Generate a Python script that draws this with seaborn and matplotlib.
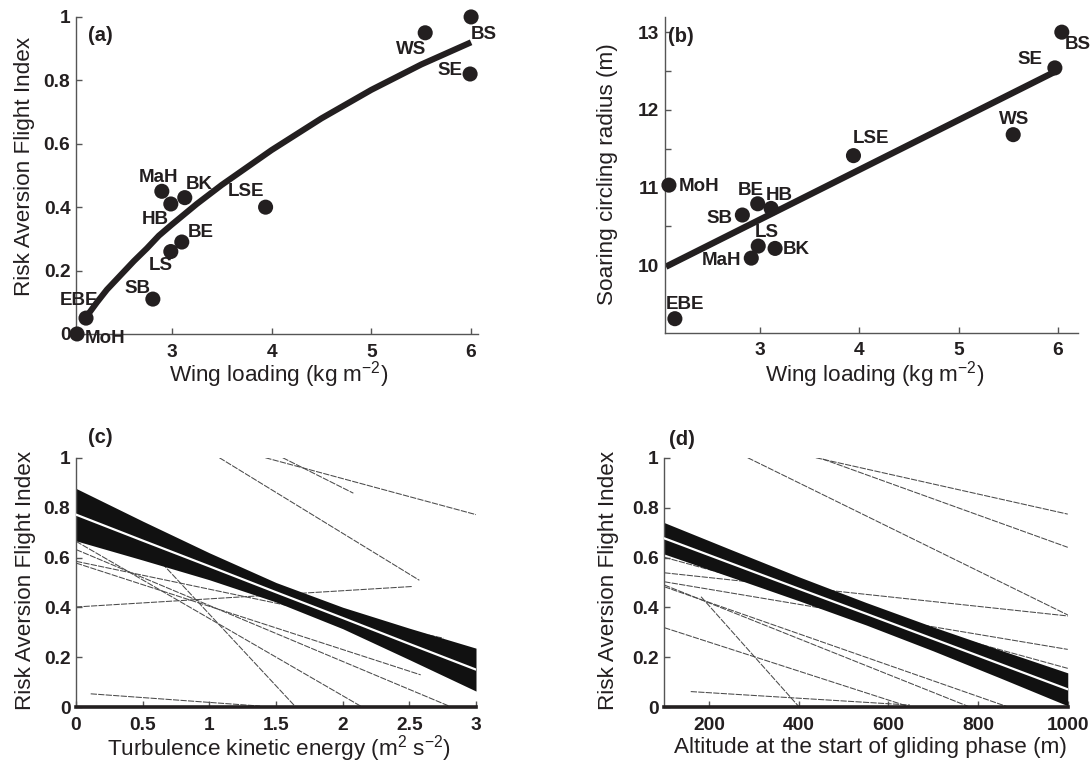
import numpy as np
import pandas as pd
import matplotlib
matplotlib.use("Agg")
import matplotlib.pyplot as plt
import seaborn as sns

# ---------------- data ----------------
species = ['MoH', 'EBE', 'SB', 'LS', 'BE', 'HB', 'MaH', 'BK', 'LSE', 'WS', 'BS', 'SE']

# panel (a)
wing_a = [2.05, 2.14, 2.81, 2.99, 3.10, 2.99, 2.90, 3.13, 3.94, 5.54, 6.00, 5.99]
rafi_a = [0.00, 0.05, 0.11, 0.26, 0.29, 0.41, 0.45, 0.43, 0.40, 0.95, 1.00, 0.82]
fit_a_x = [2.10, 2.18, 2.25, 2.35, 2.50, 2.62, 2.75, 2.87, 3.00, 3.25, 3.50, 3.75, 4.00,
           4.25, 4.50, 4.75, 5.00, 5.25, 5.50, 5.75, 6.00]
fit_a_y = [0.04, 0.07, 0.10, 0.14, 0.19, 0.23, 0.27, 0.31, 0.345, 0.41, 0.47, 0.525, 0.58,
           0.63, 0.68, 0.725, 0.77, 0.81, 0.85, 0.885, 0.92]

# panel (b)
wing_b = [2.08, 2.14, 2.82, 2.98, 2.975, 3.11, 2.91, 3.15, 3.94, 5.55, 6.04, 5.97]
radius_b = [11.03, 9.31, 10.645, 10.245, 10.79, 10.73, 10.09, 10.215, 11.41, 11.68, 13.00, 12.54]
fit_b_x = [2.05, 5.97]
fit_b_y = [9.98, 12.49]

# panel (c)
tke_x = [0.0, 0.5, 1.0, 1.5, 2.0, 2.5, 3.0]
tke_mean = [0.772, 0.668, 0.565, 0.461, 0.358, 0.254, 0.151]
tke_lo = [0.667, 0.590, 0.511, 0.422, 0.315, 0.191, 0.065]
tke_hi = [0.877, 0.746, 0.619, 0.500, 0.401, 0.317, 0.237]
tke_sp_x0 = [1.075, 1.42, 1.55, 0.00, 0.11, 0.30, 0.00, 0.00, 0.00, 0.00]
tke_sp_x1 = [2.575, 3.00, 2.08, 2.52, 1.38, 1.65, 2.15, 2.585, 2.82, 2.755]
tke_sp_y0 = [1.000, 1.000, 1.000, 0.402, 0.054, 0.775, 0.665, 0.578, 0.632, 0.585]
tke_sp_y1 = [0.509, 0.772, 0.858, 0.484, 0.005, 0.000, 0.000, 0.130, 0.000, 0.277]

# panel (d)
alt_x = [100, 250, 400, 550, 700, 850, 1000]
alt_mean = [0.677, 0.576, 0.475, 0.375, 0.274, 0.173, 0.072]
alt_lo = [0.614, 0.521, 0.427, 0.330, 0.226, 0.117, 0.006]
alt_hi = [0.740, 0.631, 0.523, 0.420, 0.322, 0.229, 0.138]
alt_sp_x0 = [286, 438, 453, 100, 100, 100, 100, 100, 182, 100, 159]
alt_sp_x1 = [1000, 1000, 1000, 1000, 1000, 1000, 783, 869, 399, 650, 648]
alt_sp_y0 = [1.000, 1.000, 0.995, 0.539, 0.601, 0.503, 0.490, 0.483, 0.443, 0.319, 0.063]
alt_sp_y1 = [0.370, 0.774, 0.641, 0.366, 0.156, 0.232, 0.000, 0.000, 0.005, 0.000, 0.009]

rafi_ticks = [0, 0.2, 0.4, 0.6, 0.8, 1]
rafi_ticklabels = ['0', '0.2', '0.4', '0.6', '0.8', '1']
wing_ticks = [3, 4, 5, 6]
wing_ticklabels = ['3', '4', '5', '6']
radius_ticks = [10, 11, 12, 13]
radius_ticklabels = ['10', '11', '12', '13']
tke_ticks = [0, 0.5, 1, 1.5, 2, 2.5, 3]
tke_ticklabels = ['0', '0.5', '1', '1.5', '2', '2.5', '3']
alt_ticks = [200, 400, 600, 800, 1000]
alt_ticklabels = ['200', '400', '600', '800', '1000']

# label offsets in pixels (dx, dy)
off_a = {'MoH': (28, -4.5), 'EBE': (-7.5, 18), 'SB': (-15.5, 10.5), 'LS': (-10.5, -14),
         'BE': (18.5, 9.5), 'HB': (-15.5, -16), 'MaH': (-3, 13.5), 'BK': (14.5, 13),
         'LSE': (-19.5, 15.5), 'WS': (-14, -17), 'BS': (13, -18), 'SE': (-20.5, 4)}
off_b = {'MoH': (30, -1), 'EBE': (10.5, 14.6), 'SB': (-23, -3), 'LS': (9, 14),
         'BE': (-7, 13.5), 'HB': (8.3, 13.3), 'MaH': (-29.7, -2.2), 'BK': (21.5, -0.7),
         'LSE': (17.8, 16.7), 'WS': (1, 15), 'BS': (15.5, -12.4), 'SE': (-25.3, 8.3)}

# ---------------- style ----------------
sns.set_style("ticks")
plt.rcParams['font.family'] = ['Liberation Sans', 'DejaVu Sans']
plt.rcParams['mathtext.fontset'] = 'custom'
plt.rcParams['mathtext.rm'] = 'Liberation Sans'
plt.rcParams['mathtext.it'] = 'Liberation Sans:italic'
plt.rcParams['mathtext.bf'] = 'Liberation Sans:bold'

INK = '#231f20'
TICK_FS = 13.8
LAB_FS = 16.2
PT_FS = 13.5

fig = plt.figure(figsize=(10.91, 7.63), dpi=100)
ax_a = fig.add_axes([0.0697, 0.5623, 0.3685, 0.4155])
ax_b = fig.add_axes([0.6095, 0.5640, 0.3783, 0.4142])
ax_c = fig.add_axes([0.0697, 0.0730, 0.3666, 0.3271])
ax_d = fig.add_axes([0.6089, 0.0730, 0.3698, 0.3271])


def style_axes(ax, bottom_lw=1.0):
    for s in ['top', 'right']:
        ax.spines[s].set_visible(False)
    ax.spines['left'].set_color('#555555')
    ax.spines['left'].set_linewidth(1.0)
    ax.spines['bottom'].set_color(INK if bottom_lw > 1.5 else '#555555')
    ax.spines['bottom'].set_linewidth(bottom_lw)
    ax.tick_params(axis='both', direction='in', length=4, width=1, colors='#555555',
                   labelcolor=INK, labelsize=TICK_FS)
    ax.tick_params(axis='x', pad=7)
    ax.tick_params(axis='y', pad=4)


def label_points(ax, xs, ys, offs):
    for name, x, y in zip(species, xs, ys):
        dx, dy = offs[name]
        ax.annotate(name, (x, y), xytext=(dx, dy), textcoords='offset pixels',
                    ha='center', va='center', fontsize=PT_FS, fontweight='bold',
                    color=INK, annotation_clip=False)


# ---------------- (a) ----------------
df_a = pd.DataFrame({'species': species, 'wing': wing_a, 'rafi': rafi_a})
sns.lineplot(x=fit_a_x, y=fit_a_y, ax=ax_a, color=INK, lw=4.4, solid_capstyle='butt',
             solid_joinstyle='round')
sns.scatterplot(data=df_a, x='wing', y='rafi', ax=ax_a, color=INK, s=118,
                edgecolor='none', clip_on=False, zorder=3)
label_points(ax_a, wing_a, rafi_a, off_a)
ax_a.set_xlim(2.04, 6.07)
ax_a.set_ylim(0, 1)
ax_a.set_xticks(wing_ticks, wing_ticklabels, fontweight='bold')
ax_a.set_yticks(rafi_ticks, rafi_ticklabels, fontweight='bold')
style_axes(ax_a)
ax_a.set_xlabel(r'Wing loading (kg m$^{-2}$)', fontsize=LAB_FS, color=INK)
ax_a.set_ylabel('Risk Aversion Flight Index', fontsize=LAB_FS, color=INK)
ax_a.xaxis.set_label_coords(0.503, -0.080)
ax_a.yaxis.set_label_coords(-0.101, 0.53)
ax_a.text(0.03, 0.97, '(a)', transform=ax_a.transAxes, ha='left', va='top',
          fontsize=14.5, fontweight='bold', color=INK)

# ---------------- (b) ----------------
df_b = pd.DataFrame({'species': species, 'wing': wing_b, 'radius': radius_b})
sns.lineplot(x=fit_b_x, y=fit_b_y, ax=ax_b, color=INK, lw=4.6, solid_capstyle='butt')
sns.scatterplot(data=df_b, x='wing', y='radius', ax=ax_b, color=INK, s=118,
                edgecolor='none', clip_on=False, zorder=3)
label_points(ax_b, wing_b, radius_b, off_b)
ax_b.set_xlim(2.04, 6.20)
ax_b.set_ylim(9.13, 13.2)
ax_b.set_xticks(wing_ticks, wing_ticklabels, fontweight='bold')
ax_b.set_yticks(radius_ticks, radius_ticklabels, fontweight='bold')
ax_b.set_yticks([10.5, 11.5, 12.5], minor=True)
style_axes(ax_b)
ax_b.tick_params(axis='y', which='minor', direction='in', length=4, width=1, colors='#555555')
ax_b.set_xlabel(r'Wing loading (kg m$^{-2}$)', fontsize=LAB_FS, color=INK)
ax_b.set_ylabel('Soaring circling radius (m)', fontsize=LAB_FS, color=INK)
ax_b.xaxis.set_label_coords(0.509, -0.083)
ax_b.yaxis.set_label_coords(-0.113, 0.502)
ax_b.text(0.0065, 0.968, '(b)', transform=ax_b.transAxes, ha='left', va='top',
          fontsize=14.5, fontweight='bold', color=INK)


# ---------------- (c) & (d) ----------------
def band_panel(ax, x0s, x1s, y0s, y1s, bx, lo, hi, mean):
    for x0, x1, y0, y1 in zip(x0s, x1s, y0s, y1s):
        sns.lineplot(x=[x0, x1], y=[y0, y1], ax=ax, color='#4a4a4a', lw=0.75,
                     linestyle=(0, (6, 1.2)), zorder=1)
    ax.fill_between(bx, lo, hi, color='#111111', lw=0, zorder=2)
    sns.lineplot(x=bx, y=mean, ax=ax, color='white', lw=1.6, zorder=3)


band_panel(ax_c, tke_sp_x0, tke_sp_x1, tke_sp_y0, tke_sp_y1, tke_x, tke_lo, tke_hi, tke_mean)
ax_c.set_xlim(0, 3)
ax_c.set_ylim(0, 1)
ax_c.set_xticks(tke_ticks, tke_ticklabels, fontweight='bold')
ax_c.set_yticks(rafi_ticks, rafi_ticklabels, fontweight='bold')
style_axes(ax_c, bottom_lw=2.6)
ax_c.set_xlabel(r'Turbulence kinetic energy (m$^{2}$ s$^{-2}$)', fontsize=LAB_FS, color=INK)
ax_c.set_ylabel('Risk Aversion Flight Index', fontsize=LAB_FS, color=INK)
ax_c.xaxis.set_label_coords(0.508, -0.103)
ax_c.yaxis.set_label_coords(-0.101, 0.51)
ax_c.text(0.03, 1.119, '(c)', transform=ax_c.transAxes, ha='left', va='top',
          fontsize=14.5, fontweight='bold', color=INK)

band_panel(ax_d, alt_sp_x0, alt_sp_x1, alt_sp_y0, alt_sp_y1, alt_x, alt_lo, alt_hi, alt_mean)
ax_d.set_xlim(100, 1000)
ax_d.set_ylim(0, 1)
ax_d.set_xticks(alt_ticks, alt_ticklabels, fontweight='bold')
ax_d.set_yticks(rafi_ticks, rafi_ticklabels, fontweight='bold')
style_axes(ax_d, bottom_lw=2.6)
ax_d.set_xlabel('Altitude at the start of gliding phase (m)', fontsize=LAB_FS, color=INK)
ax_d.set_ylabel('Risk Aversion Flight Index', fontsize=LAB_FS, color=INK)
ax_d.xaxis.set_label_coords(0.51, -0.120)
ax_d.yaxis.set_label_coords(-0.112, 0.51)
ax_d.text(0.011, 1.111, '(d)', transform=ax_d.transAxes, ha='left', va='top',
          fontsize=14.5, fontweight='bold', color=INK)

for ax in [ax_a, ax_b, ax_c, ax_d]:
    leg = ax.get_legend()
    if leg is not None:
        leg.remove()

fig.savefig('out.png', dpi=100)
